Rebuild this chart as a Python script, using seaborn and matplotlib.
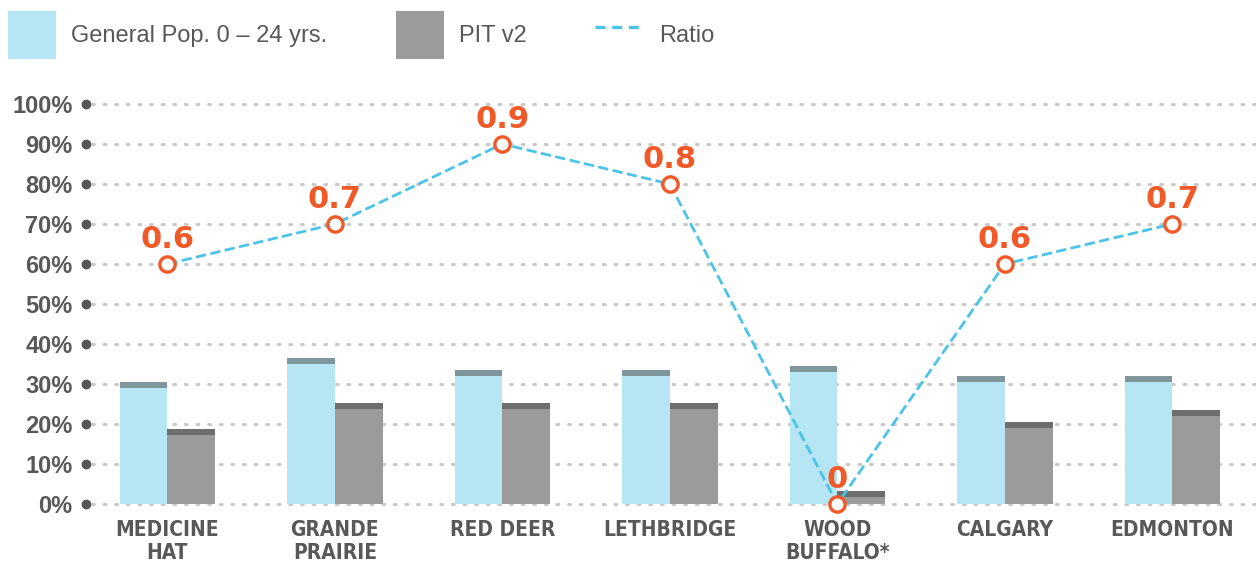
import numpy as np
import pandas as pd
import matplotlib.pyplot as plt
import matplotlib.transforms as mtransforms
from matplotlib.patches import Patch
from matplotlib.lines import Line2D
import seaborn as sns

# data
cities = ["MEDICINE\nHAT", "GRANDE\nPRAIRIE", "RED DEER", "LETHBRIDGE",
          "WOOD\nBUFFALO*", "CALGARY", "EDMONTON"]
general_pop = [30.5, 36.5, 33.5, 33.5, 34.5, 32.0, 32.0]
pit_v2 = [18.75, 25.25, 25.25, 25.25, 3.25, 20.5, 23.5]
ratio = [0.6, 0.7, 0.9, 0.8, 0.0, 0.6, 0.7]
series_names = ["General Pop. 0 – 24 yrs.", "PIT v2", "Ratio"]
y_ticks = [0, 10, 20, 30, 40, 50, 60, 70, 80, 90, 100]

CAP = 1.6  # thickness of the darker band at top of each bar

BLUE = "#b6e6f4"
BLUE_CAP = "#7f969c"
GREY = "#9b9b9c"
GREY_CAP = "#6e6e6e"
LINE = "#4cc3e8"
ORANGE = "#f05a28"
TEXT = "#58585a"

df = pd.DataFrame({
    "city": cities * 2,
    "series": [series_names[0]] * len(cities) + [series_names[1]] * len(cities),
    "value": general_pop + pit_v2,
})
df["body"] = df["value"] - CAP
ratio_df = pd.DataFrame({"city": cities, "ratio": [r * 100 for r in ratio]})

sns.set_style("white")
plt.rcParams["font.family"] = ["Liberation Sans", "DejaVu Sans"]

fig = plt.figure(figsize=(12.56, 5.65), dpi=100)
ax = fig.add_axes([92 / 1256, 55 / 565, (1256 - 92) / 1256, 412 / 565])

# dark caps (full height), then the body on top
sns.barplot(data=df, x="city", y="value", hue="series", order=cities,
            palette=[BLUE_CAP, GREY_CAP], width=0.57, legend=False, ax=ax,
            saturation=1, errorbar=None, linewidth=0, edgecolor="none")
sns.barplot(data=df, x="city", y="body", hue="series", order=cities,
            palette=[BLUE, GREY], width=0.57, legend=False, ax=ax,
            saturation=1, errorbar=None, linewidth=0, edgecolor="none")

# ratio line and markers
sns.pointplot(data=ratio_df, x="city", y="ratio", order=cities, color=LINE,
              linestyles="--", markers="", errorbar=None, ax=ax,
              linewidth=2, zorder=4)
sns.pointplot(data=ratio_df, x="city", y="ratio", order=cities, color=ORANGE,
              linestyles="none", markers="o", errorbar=None, ax=ax,
              markersize=11, markerfacecolor="white", markeredgewidth=2.4,
              zorder=5)
for ln in ax.lines:
    ln.set_clip_on(False)
for i, r in enumerate(ratio):
    ax.annotate(f"{r:g}", (i, r * 100), xytext=(0, 25), textcoords="offset pixels",
                ha="center", va="center", fontsize=22, fontweight="bold",
                color=ORANGE, family="DejaVu Sans", zorder=6)

ax.set_ylim(-1.5, 101.5)
ax.set_xlim(-0.45, 6.5)
ax.set_yticks(y_ticks)
ax.set_yticklabels([f"{t}%" for t in y_ticks], fontsize=17, fontweight="bold",
                   color=TEXT)
ax.tick_params(axis="y", length=0, pad=14)
ax.tick_params(axis="x", length=0, pad=7)
ax.set_xticks(range(len(cities)))
ax.set_xticklabels(cities, fontsize=15, fontweight="bold", color=TEXT,
                   family="DejaVu Sans", fontstretch="condensed",
                   linespacing=1.2)
ax.set_xlabel("")
ax.set_ylabel("")
for s in ax.spines.values():
    s.set_visible(False)

ax.yaxis.grid(True, color="#c8c8c8", linestyle=(0, (0.6, 3.2)), linewidth=2.2,
              dash_capstyle="round")
ax.set_axisbelow(True)

# round tick dots left of the axis
trans = mtransforms.blended_transform_factory(ax.transAxes, ax.transData)
ax.scatter([-6 / 1164] * len(y_ticks), y_ticks, s=36, color="#555555",
           transform=trans, clip_on=False, zorder=3)

handles = [
    Patch(facecolor=BLUE, edgecolor="none"),
    Patch(facecolor=GREY, edgecolor="none"),
    Line2D([], [], color=LINE, linestyle=(0, (3, 2)), linewidth=2.4),
]
fig.legend(handles, series_names, loc="upper left",
           bbox_to_anchor=(8 / 1256, 1 - 11 / 565),
           ncol=3, frameon=False, fontsize=17, handleheight=2.75,
           handlelength=2.03, handletextpad=0.65, columnspacing=2.9,
           labelcolor=TEXT, borderaxespad=0, borderpad=0)

fig.savefig("out.png", dpi=100)
